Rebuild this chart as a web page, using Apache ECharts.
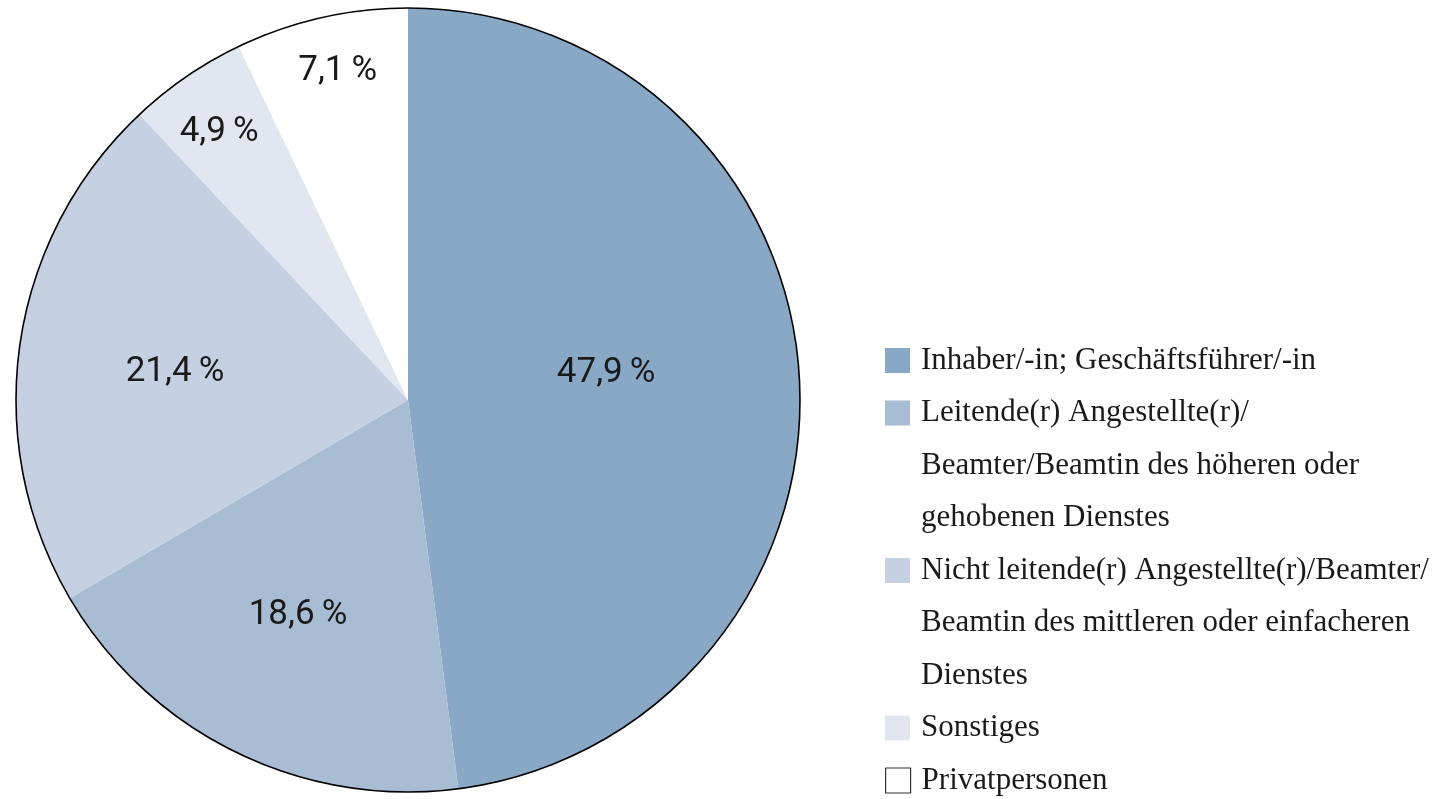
<!DOCTYPE html>
<html>
<head>
<meta charset="utf-8">
<script src="https://cdn.jsdelivr.net/npm/echarts@6/dist/echarts.min.js"></script>
<style>
html,body{margin:0;padding:0;background:#fff;}
#chart{width:1452px;height:799px;}
</style>
</head>
<body>
<div id="chart"></div>
<script>
const categories = [
  'Inhaber/-in; Geschäftsführer/-in',
  'Leitende(r) Angestellte(r)/Beamter/Beamtin des höheren oder gehobenen Dienstes',
  'Nicht leitende(r) Angestellte(r)/Beamter/Beamtin des mittleren oder einfacheren Dienstes',
  'Sonstiges',
  'Privatpersonen'
];
const values = [47.9, 18.6, 21.4, 4.9, 7.1];
const valueLabels = ['47,9\u2009%', '18,6\u2009%', '21,4\u2009%', '4,9\u2009%', '7,1\u2009%'];
const legendLines = [
  ['Inhaber/-in; Geschäftsführer/-in'],
  ['Leitende(r) Angestellte(r)/', 'Beamter/Beamtin des höheren oder', 'gehobenen Dienstes'],
  ['Nicht leitende(r) Angestellte(r)/Beamter/', 'Beamtin des mittleren oder einfacheren', 'Dienstes'],
  ['Sonstiges'],
  ['Privatpersonen']
];

// styling / layout
const colors = ['#88a8c6', '#a8bcd4', '#c5d1e2', '#e1e6f0', '#ffffff'];
const labelRadiusRatio = [0.512, 0.605, 0.6, 0.846, 0.87];
const labelAngleShift = [-5.5, 1.5, -0.3, -0.3, 0.9]; // degrees
const LABEL_DY = 5;
const CX = 408, CY = 400, R = 392;
const LINE_H = 52.5, ICON = 25, LEGEND_LEFT = 885, LEGEND_FIRST_ICON_TOP = 348, TEXT_PAD_TOP = 3;

const total = values.reduce((a, b) => a + b, 0);
const cum = [];
values.reduce((acc, v, i) => { cum[i] = acc; return acc + v; }, 0);

const chart = echarts.init(document.getElementById('chart'), null, {renderer: 'canvas'});

// legends: one per item so multi-line entries keep the icon on their first line
const legends = [];
let lineIdx = 0;
categories.forEach((name, i) => {
  const n = legendLines[i].length;
  const H = (n - 1) * LINE_H + ICON;
  const iconTop = LEGEND_FIRST_ICON_TOP + lineIdx * LINE_H;
  const lg = {
    orient: 'vertical',
    left: LEGEND_LEFT,
    top: iconTop + (ICON - LINE_H - TEXT_PAD_TOP) / 2,
    padding: 0,
    itemWidth: ICON,
    itemHeight: H,
    icon: 'path://M0 0h' + ICON + 'v' + ICON + 'h-' + ICON + 'z M0 ' + H + 'h0',
    selectedMode: false,
    data: [name],
    formatter: () => legendLines[i].join('\n'),
    textStyle: {
      fontFamily: 'Liberation Serif',
      fontSize: 31,
      lineHeight: LINE_H,
      color: '#1a1a1a',
      padding: [TEXT_PAD_TOP, 0, 0, 6]
    }
  };
  if (colors[i] === '#ffffff') {
    lg.itemStyle = {borderColor: '#333', borderWidth: 1.2};
  }
  legends.push(lg);
  lineIdx += n;
});

const option = {
  animation: false,
  backgroundColor: '#ffffff',
  legend: legends,
  series: [
    {
      type: 'pie',
      center: [CX, CY],
      radius: R,
      startAngle: 90,
      clockwise: true,
      avoidLabelOverlap: false,
      emphasis: {disabled: true},
      itemStyle: {borderWidth: 0},
      label: {
        show: true,
        position: 'inside',
        formatter: p => valueLabels[p.dataIndex],
        fontFamily: 'Roboto',
        fontSize: 35,
        color: '#1a1a1a'
      },
      labelLine: {show: false},
      labelLayout: p => {
        const i = p.dataIndex;
        const theta = ((cum[i] + values[i] / 2) / total * 360 + labelAngleShift[i]) * Math.PI / 180;
        const k = labelRadiusRatio[i] * R;
        return {
          x: CX + k * Math.sin(theta),
          y: CY - k * Math.cos(theta) + LABEL_DY,
          align: 'center',
          verticalAlign: 'middle'
        };
      },
      data: categories.map((name, i) => ({
        name: name,
        value: values[i],
        itemStyle: {color: colors[i]}
      }))
    },
    {
      type: 'pie',
      center: [CX, CY],
      radius: R,
      silent: true,
      z: 5,
      label: {show: false},
      labelLine: {show: false},
      emphasis: {disabled: true},
      itemStyle: {color: 'rgba(0,0,0,0)', borderColor: '#000', borderWidth: 1.6},
      data: [{name: 'outline', value: 1}]
    }
  ]
};
chart.setOption(option);
</script>
</body>
</html>
